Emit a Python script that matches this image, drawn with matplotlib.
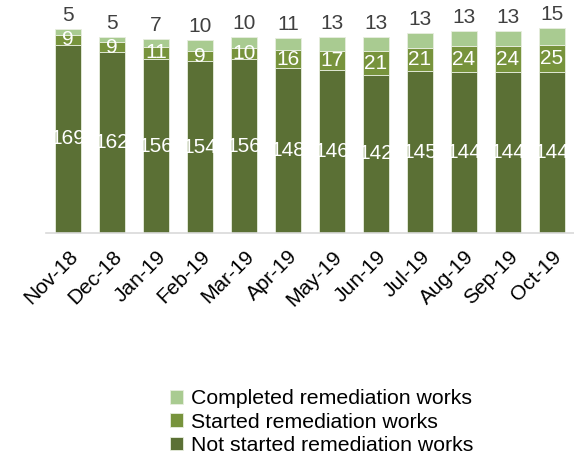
import numpy as np
import matplotlib
matplotlib.use('Agg')
import matplotlib.pyplot as plt

plt.rcParams['font.family'] = ['Liberation Sans', 'DejaVu Sans']

months = ['Nov-18', 'Dec-18', 'Jan-19', 'Feb-19', 'Mar-19', 'Apr-19',
          'May-19', 'Jun-19', 'Jul-19', 'Aug-19', 'Sep-19', 'Oct-19']
not_started = [169, 162, 156, 154, 156, 148, 146, 142, 145, 144, 144, 144]
started = [9, 9, 11, 9, 10, 16, 17, 21, 21, 24, 24, 25]
completed = [5, 5, 7, 10, 10, 11, 13, 13, 13, 13, 13, 15]

c_dark = '#5b7035'
c_mid = '#77933c'
c_light = '#a9cb91'
fs = 15

fig = plt.figure(figsize=(5.74, 4.57), dpi=100)
ax = fig.add_axes([0.08, 0.49, 0.92, 0.51])

x = np.arange(len(months))
ns = np.array(not_started)
st = np.array(started)
co = np.array(completed)
w = 0.59

b1 = ax.bar(x, ns, w, color=c_dark, edgecolor='#e8eedf', linewidth=0.6,
            label='Not started remediation works')
b2 = ax.bar(x, st, w, bottom=ns, color=c_mid, edgecolor='#e8eedf', linewidth=0.6,
            label='Started remediation works')
b3 = ax.bar(x, co, w, bottom=ns + st, color=c_light, edgecolor='#e8eedf', linewidth=0.6,
            label='Completed remediation works')

ax.bar_label(b1, labels=[str(v) for v in not_started], label_type='center',
             color='white', fontsize=fs)
ax.bar_label(b2, labels=[str(v) for v in started], label_type='center',
             color='white', fontsize=fs)
ax.bar_label(b3, labels=[str(v) for v in completed], padding=3,
             color='#404040', fontsize=fs)

ax.set_xlim(-0.5, len(months) - 0.5)
ax.set_ylim(0, 209)
ax.set_yticks([])
for s in ['top', 'right', 'left']:
    ax.spines[s].set_visible(False)
ax.spines['bottom'].set_color('#d9d9d9')
ax.spines['bottom'].set_linewidth(1.2)
ax.set_xticks(x)
ax.set_xticklabels(months, rotation=45, ha='right', rotation_mode='anchor',
                   fontsize=fs, color='#000000')
ax.tick_params(axis='x', length=0, pad=10)

fig.legend(handles=[b3, b2, b1], loc='upper left', bbox_to_anchor=(0.297, 0.148),
           frameon=False, fontsize=15.3, handlelength=0.6, handleheight=0.6,
           handletextpad=0.35, labelspacing=0.2, borderaxespad=0, borderpad=0)

fig.savefig('out.png', dpi=100)
